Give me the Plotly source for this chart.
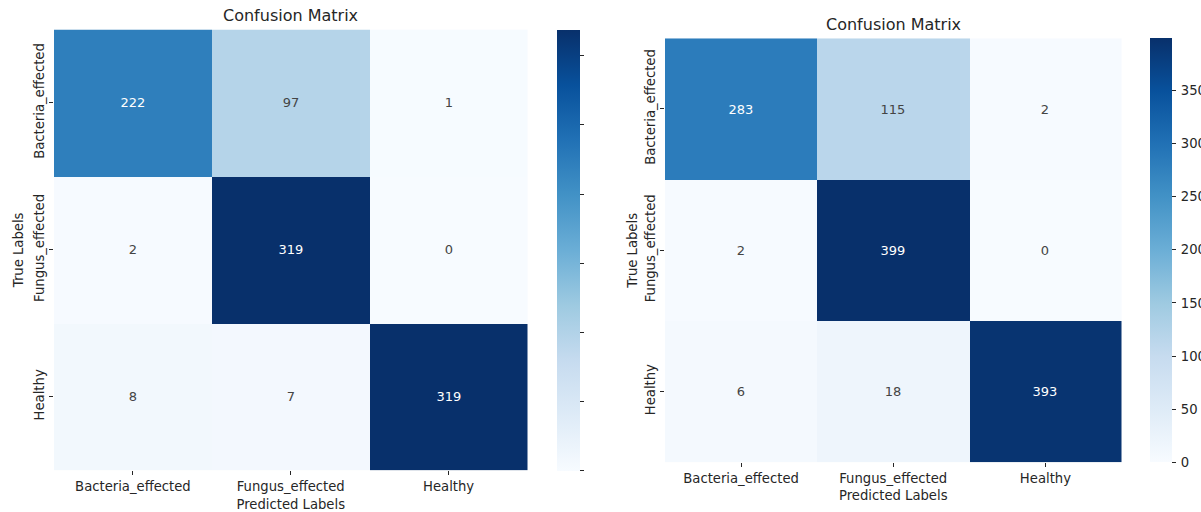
import plotly.graph_objects as go

classes = ["Bacteria_effected", "Fungus_effected", "Healthy"]
cm_left = [[222, 97, 1],
           [2, 319, 0],
           [8, 7, 319]]
cm_right = [[283, 115, 2],
            [2, 399, 0],
            [6, 18, 393]]
title_text = "Confusion Matrix"
xlabel = "Predicted Labels"
ylabel = "True Labels"

W, H = 1201, 512
FONT = "DejaVu Sans"
DARK = "#262626"
FS = 13.2

def px(x):
    return x / W

def py(y):
    return 1 - y / H

blues = [[0.0, 'rgb(247,251,255)'], [0.125, 'rgb(222,235,247)'], [0.25, 'rgb(198,219,239)'],
         [0.375, 'rgb(158,202,225)'], [0.5, 'rgb(107,174,214)'], [0.625, 'rgb(66,146,198)'],
         [0.75, 'rgb(33,113,181)'], [0.875, 'rgb(8,81,156)'], [1.0, 'rgb(8,48,107)']]

# pixel geometry of the two panels
L = dict(x0=54, x1=527.5, y0=29.5, y1=470.3, cbx=557, cbw=23)
R = dict(x0=665, x1=1121.5, y0=38.3, y1=462.3, cbx=1150, cbw=21.5)

fig = go.Figure()

def add_panel(cm, g, xa, ya, show_cb_labels):
    zmax = max(max(r) for r in cm)
    fig.add_trace(go.Heatmap(
        z=cm, x=classes, y=classes, xaxis=xa, yaxis=ya,
        colorscale=blues, zmin=0, zmax=zmax,
        texttemplate="%{z}", textfont=dict(family=FONT, size=13),
        hoverinfo="skip",
        colorbar=dict(
            x=px(g["cbx"]), xanchor="left", xpad=0, ypad=0,
            y=py(g["y0"]), yanchor="top",
            len=g["y1"] - g["y0"], lenmode="pixels",
            thickness=g["cbw"], thicknessmode="pixels",
            outlinewidth=0,
            tick0=0, dtick=50, ticks="outside", ticklen=4, tickwidth=1, tickcolor=DARK,
            showticklabels=show_cb_labels, tickprefix="\u2009",
            tickfont=dict(family=FONT, size=FS, color=DARK),
        ),
    ))

add_panel(cm_left, L, "x", "y", False)
add_panel(cm_right, R, "x2", "y2", True)

axis_common = dict(showgrid=False, zeroline=False, showline=False,
                   ticks="outside", ticklen=4, tickcolor=DARK,
                   tickfont=dict(family=FONT, size=FS, color=DARK))

fig.update_layout(
    width=W, height=H, margin=dict(l=0, r=0, t=0, b=0, autoexpand=False),
    paper_bgcolor="white", plot_bgcolor="white",
    font=dict(family=FONT, color=DARK),
    xaxis=dict(domain=[px(L["x0"]), px(L["x1"])], anchor="y",
               title=dict(text=xlabel, standoff=7, font=dict(size=FS)), **axis_common),
    yaxis=dict(domain=[py(L["y1"]), py(L["y0"])], anchor="x", autorange="reversed",
               tickangle=-90, title=dict(text=ylabel, standoff=5, font=dict(size=FS)), **axis_common),
    xaxis2=dict(domain=[px(R["x0"]), px(R["x1"])], anchor="y2",
                title=dict(text=xlabel, standoff=5, font=dict(size=FS)), **axis_common),
    yaxis2=dict(domain=[py(R["y1"]), py(R["y0"])], anchor="x2", autorange="reversed",
                tickangle=-90, title=dict(text=ylabel, standoff=2, font=dict(size=FS)), **axis_common),
    annotations=[
        dict(text=title_text, x=(px(L["x0"]) + px(L["x1"])) / 2, y=py(L["y0"]),
             xref="paper", yref="paper", xanchor="center", yanchor="bottom", yshift=2,
             showarrow=False, font=dict(family=FONT, size=16, color=DARK)),
        dict(text=title_text, x=(px(R["x0"]) + px(R["x1"])) / 2, y=py(R["y0"]),
             xref="paper", yref="paper", xanchor="center", yanchor="bottom", yshift=2,
             showarrow=False, font=dict(family=FONT, size=16, color=DARK)),
    ],
)

fig.write_html("out.html")
